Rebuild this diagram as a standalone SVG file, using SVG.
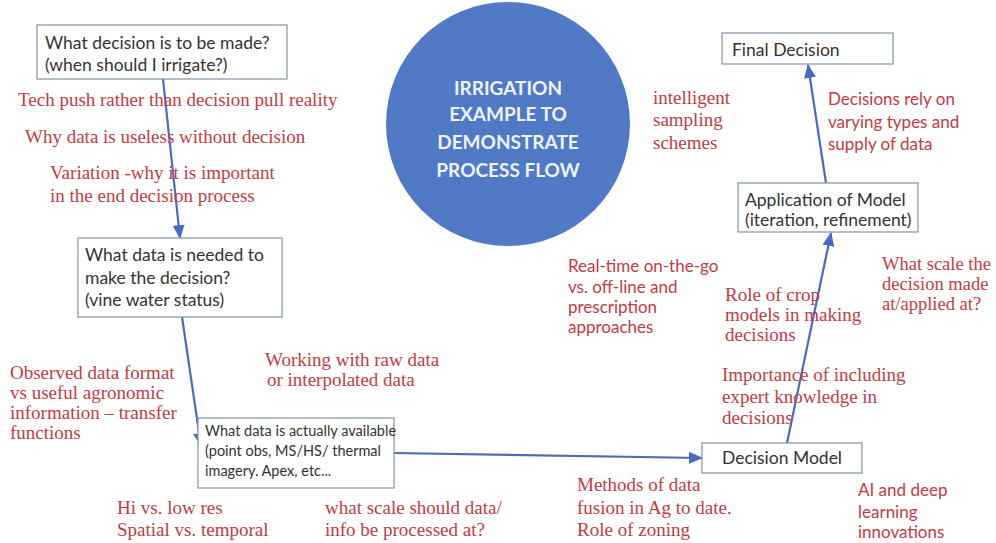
<svg xmlns="http://www.w3.org/2000/svg" width="996" height="543" viewBox="0 0 996 543">
<style>
.box{fill:#fff;stroke:#8a9bb0;stroke-width:1.3}
.bt{font-family:Lato,"Liberation Sans",sans-serif;font-size:17.5px;fill:#333}
.bs{font-family:Lato,"Liberation Sans",sans-serif;font-size:14.5px;fill:#333}
.rs{font-family:"Liberation Serif",serif;font-size:19px;fill:#c23b45}
.rn{font-family:Lato,"Liberation Sans",sans-serif;font-size:17px;fill:#c23b45}
.ct{font-family:Lato,"Liberation Sans",sans-serif;font-size:19px;font-weight:bold;fill:#eef2fa;text-anchor:middle}
.con{stroke:#4a6cc0;stroke-width:2.2;fill:none;marker-end:url(#ah)}
</style>
<defs>
<marker id="ah" markerWidth="14" markerHeight="12" refX="13" refY="6" orient="auto" markerUnits="userSpaceOnUse">
<path d="M0,0 L14,6 L0,12 Z" fill="#4a6cc0"/>
</marker>
</defs>
<rect width="996" height="543" fill="#fff"/>
<g id="title">
<circle cx="508" cy="124" r="122" fill="#5079c6"/>
<text class="ct" x="508" y="95">IRRIGATION</text>
<text class="ct" x="508" y="121">EXAMPLE TO</text>
<text class="ct" x="508" y="149">DEMONSTRATE</text>
<text class="ct" x="508" y="177">PROCESS FLOW</text>
</g>
<g id="connectors">
<line class="con" x1="163" y1="79" x2="180" y2="238"/>
<line class="con" x1="182" y1="317" x2="201" y2="446"/>
<line class="con" x1="392" y1="453" x2="702" y2="458"/>
<line class="con" x1="787" y1="443" x2="831" y2="233"/>
<line class="con" x1="826" y1="183" x2="808" y2="65"/>
</g>
<g id="n1">
<rect class="box" x="37" y="25" width="250" height="54"/>
<text class="bt" x="45" y="49">What decision is to be made?</text>
<text class="bt" x="45" y="71">(when should I irrigate?)</text>
</g>
<g id="n2">
<rect class="box" x="78" y="238" width="204" height="79"/>
<text class="bt" x="85" y="261">What data is needed to</text>
<text class="bt" x="85" y="284">make the decision?</text>
<text class="bt" x="85" y="306">(vine water status)</text>
</g>
<g id="n3">
<rect class="box" x="198" y="418" width="196" height="70"/>
<text class="bs" x="205" y="436">What data is actually available</text>
<text class="bs" x="205" y="456">(point obs, MS/HS/ thermal</text>
<text class="bs" x="205" y="476">imagery. Apex, etc...</text>
</g>
<g id="n4">
<rect class="box" x="702" y="443" width="160" height="30"/>
<text class="bt" x="782" y="464" text-anchor="middle">Decision Model</text>
</g>
<g id="n5">
<rect class="box" x="738" y="183" width="180" height="49"/>
<text class="bt" x="745" y="206">Application of Model</text>
<text class="bt" x="745" y="226">(iteration, refinement)</text>
</g>
<g id="n6">
<rect class="box" x="722" y="33" width="171" height="31"/>
<text class="bt" x="732" y="56">Final Decision</text>
</g>
<g id="notes">
<text class="rs" x="18" y="106">Tech push rather than decision pull reality</text>
<text class="rs" x="25" y="143">Why data is useless without decision</text>
<text class="rs" x="50" y="179">Variation -why it is important</text>
<text class="rs" x="50" y="202">in the end decision process</text>
<text class="rs" x="10" y="379">Observed data format</text>
<text class="rs" x="10" y="399">vs useful agronomic</text>
<text class="rs" x="10" y="419">information – transfer</text>
<text class="rs" x="10" y="439">functions</text>
<text class="rs" x="265" y="366">Working with raw data</text>
<text class="rs" x="267" y="386">or interpolated data</text>
<text class="rs" x="117" y="514">Hi vs. low res</text>
<text class="rs" x="117" y="536">Spatial vs. temporal</text>
<text class="rs" x="325" y="514">what scale should data/</text>
<text class="rs" x="325" y="536">info be processed at?</text>
<text class="rs" x="577" y="491">Methods of data</text>
<text class="rs" x="577" y="514">fusion in Ag to date.</text>
<text class="rs" x="577" y="536">Role of zoning</text>
<text class="rn" x="858" y="496">AI  and deep</text>
<text class="rn" x="858" y="518">learning</text>
<text class="rn" x="858" y="538">innovations</text>
<text class="rs" x="722" y="381">Importance of including</text>
<text class="rs" x="722" y="403">expert knowledge in</text>
<text class="rs" x="722" y="424">decisions</text>
<text class="rn" x="568" y="272">Real-time on-the-go</text>
<text class="rn" x="568" y="293">vs. off-line and</text>
<text class="rn" x="568" y="313">prescription</text>
<text class="rn" x="568" y="333">approaches</text>
<text class="rs" x="725" y="301">Role of crop</text>
<text class="rs" x="725" y="321">models in making</text>
<text class="rs" x="725" y="341">decisions</text>
<text class="rs" x="882" y="270" style="font-size:18.5px">What scale the</text>
<text class="rs" x="882" y="290" style="font-size:18.5px">decision made</text>
<text class="rs" x="882" y="310" style="font-size:18.5px">at/applied at?</text>
<text class="rn" x="828" y="105">Decisions rely on</text>
<text class="rn" x="828" y="128">varying types and</text>
<text class="rn" x="828" y="150">supply of data</text>
<text class="rs" x="653" y="104">intelligent</text>
<text class="rs" x="653" y="126">sampling</text>
<text class="rs" x="653" y="149">schemes</text>
</g>
</svg>
